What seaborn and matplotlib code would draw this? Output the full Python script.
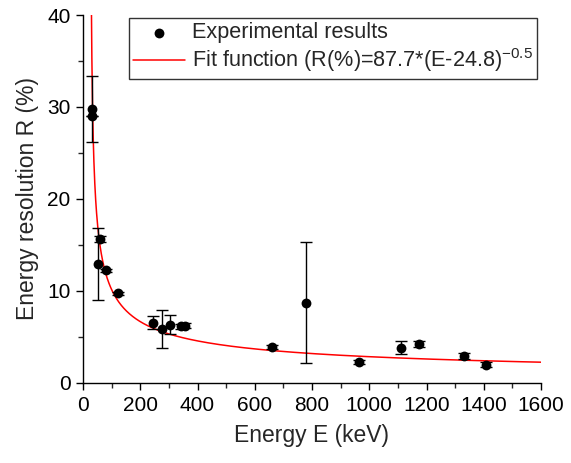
import numpy as np
import pandas as pd
import matplotlib
matplotlib.use("Agg")
import matplotlib.pyplot as plt
import seaborn as sns
from matplotlib.ticker import MultipleLocator

# Data
energy_kev = [30, 31, 53, 59.5, 81, 122, 244, 276, 303, 344, 356, 662, 779, 964, 1112, 1173, 1332, 1408]
resolution_pct = [29.8, 29.0, 12.9, 15.6, 12.2, 9.7, 6.5, 5.8, 6.3, 6.1, 6.2, 3.9, 8.7, 2.2, 3.8, 4.2, 2.9, 1.95]
resolution_err = [3.6, 0.0, 3.9, 0.3, 0.2, 0.2, 0.7, 2.05, 1.0, 0.3, 0.3, 0.2, 6.6, 0.2, 0.75, 0.35, 0.3, 0.3]

fit_a = 87.7
fit_e0 = 24.8
fit_p = -0.5

x_ticks = [0, 200, 400, 600, 800, 1000, 1200, 1400, 1600]
y_ticks = [0, 10, 20, 30, 40]

sns.set_theme(style="ticks")
plt.rcParams["font.family"] = ["Liberation Sans", "DejaVu Sans"]
plt.rcParams["mathtext.fontset"] = "custom"
plt.rcParams["mathtext.rm"] = "Liberation Sans"
plt.rcParams["mathtext.it"] = "Liberation Sans:italic"

df = pd.DataFrame({"E": energy_kev, "R": resolution_pct, "err": resolution_err})

e_fit = np.linspace(29.4, 1600, 2000)
r_fit = fit_a * (e_fit - fit_e0) ** fit_p
fit_df = pd.DataFrame({"E": e_fit, "R": r_fit})

fig = plt.figure(figsize=(5.71, 4.63), dpi=100)
ax = fig.add_axes([83 / 571, 1 - 382.5 / 463, 458 / 571, 367.5 / 463])

fit_label = "Fit function (R(%)=87.7*(E-24.8)$^{-0.5}$"
sns.lineplot(data=fit_df, x="E", y="R", ax=ax, color="red", lw=1.1,
             label=fit_label, zorder=2)
ax.errorbar(df["E"], df["R"], yerr=df["err"], fmt="none", ecolor="black",
            elinewidth=1.0, capsize=4, capthick=1.0, zorder=3)
sns.scatterplot(data=df, x="E", y="R", ax=ax, color="black", s=50,
                edgecolor="black", linewidth=0, label="Experimental results", zorder=4)

ax.set_xlim(0, 1600)
ax.set_ylim(0, 40)
ax.set_xticks(x_ticks)
ax.set_yticks(y_ticks)
ax.xaxis.set_minor_locator(MultipleLocator(100))
ax.yaxis.set_minor_locator(MultipleLocator(5))
ax.tick_params(axis="both", which="major", direction="out", length=5, width=1,
               labelsize=15, colors="black")
ax.tick_params(axis="x", which="major", pad=5)
ax.tick_params(axis="y", which="major", pad=4)
ax.tick_params(axis="both", which="minor", direction="out", length=3.4, width=1)
for side in ["top", "right"]:
    ax.spines[side].set_visible(False)
for side in ["left", "bottom"]:
    ax.spines[side].set_linewidth(1.0)
    ax.spines[side].set_color("black")

ax.set_xlabel("Energy E (keV)", fontsize=16.5, labelpad=6)
ax.set_ylabel("Energy resolution R (%)", fontsize=16.5, labelpad=6)

handles, labels = ax.get_legend_handles_labels()
order = [labels.index("Experimental results"), labels.index(fit_label)]
leg = ax.legend([handles[i] for i in order], [labels[i] for i in order],
                loc="upper right", bbox_to_anchor=(0.991, 0.992), borderaxespad=0,
                fontsize=15.6, frameon=True, fancybox=False, edgecolor="black",
                handlelength=2.4, handletextpad=0.3, borderpad=0.2, labelspacing=0.15)
leg.get_frame().set_linewidth(1.0)

fig.savefig("out.png", dpi=100)
